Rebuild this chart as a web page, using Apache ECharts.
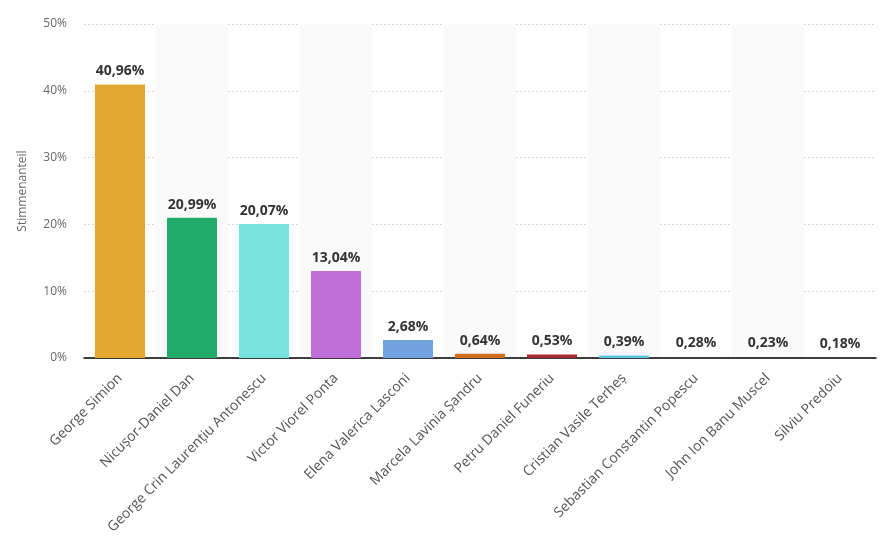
<!DOCTYPE html>
<html>
<head>
<meta charset="utf-8">
<script src="https://cdn.jsdelivr.net/npm/echarts@6/dist/echarts.min.js"></script>
<style>
html,body{margin:0;padding:0;background:#fff;}
#chart{width:884px;height:553px;}
</style>
</head>
<body>
<div id="chart"></div>
<script>
const categories = [
  "George Simion",
  "Nicușor-Daniel Dan",
  "George Crin Laurențiu Antonescu",
  "Victor Viorel Ponta",
  "Elena Valerica Lasconi",
  "Marcela Lavinia Șandru",
  "Petru Daniel Funeriu",
  "Cristian Vasile Terheș",
  "Sebastian Constantin Popescu",
  "John Ion Banu Muscel",
  "Silviu Predoiu"
];
const values = [40.96, 20.99, 20.07, 13.04, 2.68, 0.64, 0.53, 0.39, 0.28, 0.23, 0.18];
const barColors = ["#e3a72f", "#22ab69", "#78e3dd", "#c06fd8", "#72a3e0", "#d0701f", "#a82c2f", "#5bc7dc", "rgba(255,255,255,0)", "rgba(255,255,255,0)", "rgba(255,255,255,0)"];
const yTicks = [0, 10, 20, 30, 40, 50];

const fmt = v => v.toFixed(2).replace('.', ',') + '%';

const chart = echarts.init(document.getElementById('chart'));
chart.setOption({
  animation: false,
  textStyle: { fontFamily: 'Open Sans' },
  grid: { left: 84, right: 8, top: 24, bottom: 195, containLabel: false },
  xAxis: {
    type: 'category',
    data: categories,
    axisLine: { lineStyle: { color: '#000', width: 1.5 } },
    axisTick: { show: false },
    splitArea: { show: true, areaStyle: { color: ['rgba(255,255,255,0)', '#fafafa'] } },
    axisLabel: { rotate: 45, color: '#555', fontSize: 14, margin: 18, interval: 0, fontFamily: 'Open Sans' }
  },
  yAxis: {
    type: 'value',
    min: yTicks[0],
    max: yTicks[yTicks.length - 1],
    interval: 10,
    name: 'Stimmenanteil',
    nameLocation: 'middle',
    nameGap: 55,
    nameTextStyle: { color: '#666', fontSize: 12, fontFamily: 'Open Sans' },
    axisLine: { show: false },
    axisTick: { show: false },
    axisLabel: { color: '#666', fontSize: 12, margin: 17, formatter: v => v + '%', fontFamily: 'Open Sans' },
    splitLine: { lineStyle: { color: '#c8c8c8', type: [1.5, 2.5], width: 1 } }
  },
  series: [{
    type: 'bar',
    data: values.map((v, i) => ({ value: v, itemStyle: { color: barColors[i] } })),
    barWidth: 50,
    label: {
      show: true,
      position: 'top',
      distance: 6,
      color: '#333',
      fontWeight: 'bold',
      fontSize: 14,
      fontFamily: 'Open Sans',
      formatter: p => fmt(p.value)
    }
  }]
});
</script>
</body>
</html>
